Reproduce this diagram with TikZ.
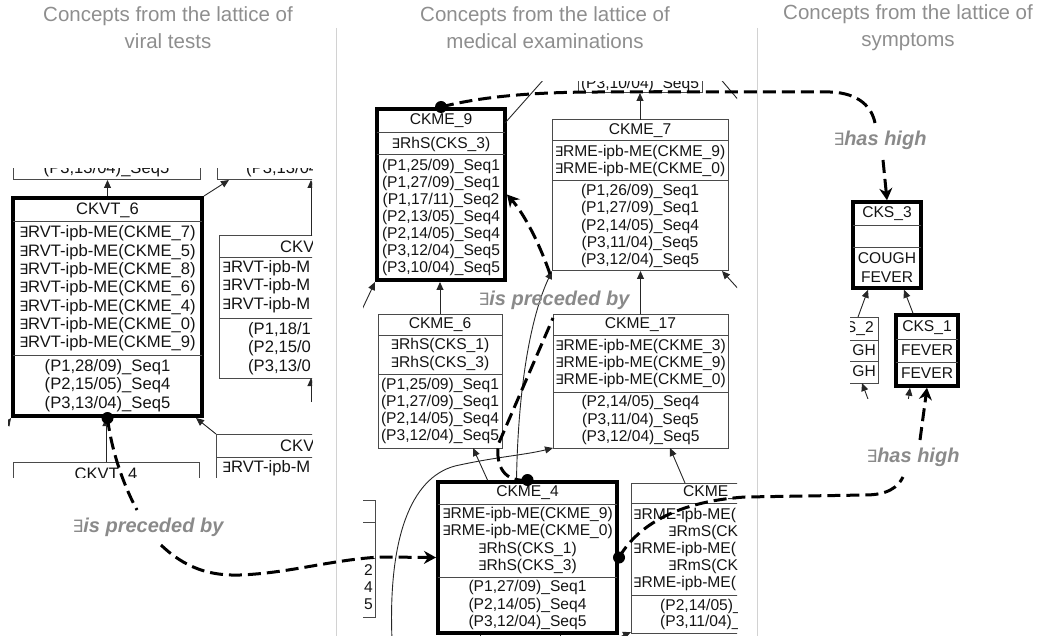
\documentclass[tikz,border=0pt]{standalone}
\usepackage{fontspec}
\setmainfont{Liberation Sans}
\newfontfamily\dvfont[Scale=0.85]{DejaVu Sans}
\usetikzlibrary{arrows.meta,calc}
\definecolor{hgray}{HTML}{8E8E8E}
\definecolor{lgray}{HTML}{8A8A8A}
\definecolor{vgray}{HTML}{D2D2D2}
\definecolor{bline}{HTML}{4A4A4A}
\newcommand\exsym{{\dvfont\mdseries\upshape ∃}}
\newcommand\fL{\fontsize{16.6}{18.3}\selectfont}
\newcommand\fM{\fontsize{15.6}{17.1}\selectfont}
\newcommand\fR{\fontsize{15.6}{18.3}\selectfont}
\newcommand\fH{\fontsize{20.5}{27}\selectfont}
\newcommand\fB{\fontsize{20}{24}\selectfont\bfseries\itshape}
\newcommand\cb[6]{\node[#2,minimum width={#5-#3},minimum height={#6-#4}] (#1) at ({(#3+#5)/2},{(#4+#6)/2}) {};}
\newcommand\hs[3]{\draw[sl] (#1,#3) -- (#2,#3);}
\tikzset{
  tb/.style={draw=bline,line width=1pt,inner sep=0pt,outer sep=0pt},
  tk/.style={draw=black,line width=4pt,inner sep=0pt,outer sep=2pt},
  tk3/.style={draw=black,line width=3.5pt,inner sep=0pt,outer sep=1.75pt},
  sl/.style={draw=bline,line width=1pt},
  thinl/.style={draw=black!85,line width=0.9pt},
  arr/.style={thinl,-{Triangle[length=8pt,width=7pt]}},
  dsh/.style={draw=black,line width=3pt,dash pattern=on 13pt off 6pt},
  dsha/.style={dsh,-{Stealth[length=12pt,width=13pt]}},
  lt/.style={font=\fL,align=center,inner sep=0pt,text=black!92},
  mt/.style={font=\fM,align=center,inner sep=0pt,text=black!92},
  rt/.style={font=\fR,align=center,inner sep=0pt,text=black!92},
  hdr/.style={font=\fH,align=center,text=hgray,inner sep=0pt},
  lbl/.style={font=\fB,text=lgray,inner sep=0pt},
  vsep/.style={draw=vgray,line width=1pt},
  blob/.style={circle,fill=black,inner sep=0pt,minimum size=12pt},
}
\begin{document}
\begin{tikzpicture}[x=1pt,y=-1pt]
\useasboundingbox (0,0) rectangle (1041,636);
% headers and separators
\node[hdr] (h1) at (168,28) {Concepts from the lattice of\\viral tests};
\node[hdr] (h2) at (545,28) {Concepts from the lattice of\\medical examinations};
\node[hdr] (h3) at (908,28) {Concepts from the lattice of\\symptoms};
\draw[vsep] (336,28) -- (336,636);
\draw[vsep] (757,28) -- (757,636);

% ---------------- left panel ----------------
\begin{scope}
\clip (8,169) rectangle (312,477);
\cb{va}{tb}{13}{120}{200}{180}
\node[lt] at (106.5,169) {(P3,13/04)\_Seq5};
\cb{vb}{tb}{217}{120}{401}{180}
\node[lt] at (309,169) {(P3,13/04)\_Seq5};
\cb{ckvt6}{tk}{13}{198}{202}{416}
\hs{13}{202}{222} \hs{13}{202}{355}
\node[lt] at (107.5,210) {CKVT\_6};
\node[lt] at (107.5,288.5) {\exsym RVT-ipb-ME(CKME\_7)\\\exsym RVT-ipb-ME(CKME\_5)\\\exsym RVT-ipb-ME(CKME\_8)\\\exsym RVT-ipb-ME(CKME\_6)\\\exsym RVT-ipb-ME(CKME\_4)\\\exsym RVT-ipb-ME(CKME\_0)\\\exsym RVT-ipb-ME(CKME\_9)};
\node[lt] at (107.5,385.5) {(P1,28/09)\_Seq1\\(P2,15/05)\_Seq4\\(P3,13/04)\_Seq5};
\cb{vc}{tb}{219}{236}{395}{378}
\hs{219}{395}{258} \hs{219}{395}{318}
\node[lt,anchor=west] at (280,247) {CKV};
\node[lt,anchor=west,align=left] at (222,286.5) {\exsym RVT-ipb-M\\\exsym RVT-ipb-M\\\exsym RVT-ipb-M};
\node[lt,anchor=west,align=left] at (248,348.5) {(P1,18/1\\(P2,15/0\\(P3,13/0};
\cb{vd}{tb}{216}{434}{395}{520}
\hs{216}{395}{457}
\node[lt,anchor=west] at (280,445.5) {CKV};
\node[lt,anchor=west] at (222,468) {\exsym RVT-ipb-M};
\cb{ckvt4}{tb}{13}{462}{199}{560}
\node[lt] at (106,475) {CKVT\_4};
\draw[arr] (ckvt6.north) -- (ckvt6.north |- va.south);
\draw[arr] (ckvt6.north east) -- ($(vb.south west)+(12,0)$);
\draw[arr] ($(vc.north west)+(92,0)$) -- ($(vb.south west)+(94,0)$);
\draw[arr] ($(vc.south west)+(92,24)$) -- ($(vc.south west)+(92,0)$);
\draw[arr] (vd.north west) -- ($(ckvt6.south east)+(-8,0)$);
\draw[arr] (ckvt4.north) -- (ckvt4.north |- ckvt6.south);
\draw[arr] ($(ckvt6.south west)+(-7,10)$) -- (ckvt6.south west);
\end{scope}

% ---------------- middle panel ----------------
\begin{scope}
\clip (363,82) rectangle (737,636);
\cb{metop}{tb}{578}{40}{702}{93}
\node[mt] at (640,84) {(P3,10/04)\_Seq5};
\cb{ckme9}{tk}{377}{109}{505}{280}
\hs{377}{505}{133} \hs{377}{505}{155}
\node[mt] at (441,121) {CKME\_9};
\node[mt] at (441,144) {\exsym RhS(CKS\_3)};
\node[mt] at (441,217.5) {(P1,25/09)\_Seq1\\(P1,27/09)\_Seq1\\(P1,17/11)\_Seq2\\(P2,13/05)\_Seq4\\(P2,14/05)\_Seq4\\(P3,12/04)\_Seq5\\(P3,10/04)\_Seq5};
\cb{ckme7}{tb}{552}{120}{728}{271}
\hs{552}{728}{141} \hs{552}{728}{181}
\node[mt] at (640,130.5) {CKME\_7};
\node[mt] at (640,161) {\exsym RME-ipb-ME(CKME\_9)\\\exsym RME-ipb-ME(CKME\_0)};
\node[mt] at (640,226) {(P1,26/09)\_Seq1\\(P1,27/09)\_Seq1\\(P2,14/05)\_Seq4\\(P3,11/04)\_Seq5\\(P3,12/04)\_Seq5};
\cb{ckme6}{tb}{378}{314}{502}{448}
\hs{378}{502}{335} \hs{378}{502}{374}
\node[mt] at (440,324.5) {CKME\_6};
\node[mt] at (440,354.5) {\exsym RhS(CKS\_1)\\\exsym RhS(CKS\_3)};
\node[mt] at (440,411) {(P1,25/09)\_Seq1\\(P1,27/09)\_Seq1\\(P2,14/05)\_Seq4\\(P3,12/04)\_Seq5};
\cb{ckme17}{tb}{553}{314}{728}{448}
\hs{553}{728}{335} \hs{553}{728}{392}
\node[mt] at (640.5,324.5) {CKME\_17};
\node[mt] at (640.5,363.5) {\exsym RME-ipb-ME(CKME\_3)\\\exsym RME-ipb-ME(CKME\_9)\\\exsym RME-ipb-ME(CKME\_0)};
\node[mt] at (640.5,420) {(P2,14/05)\_Seq4\\(P3,11/04)\_Seq5\\(P3,12/04)\_Seq5};
\cb{ckme4}{tk}{438}{482}{617}{633}
\hs{438}{617}{504} \hs{438}{617}{577}
\node[mt] at (527.5,493) {CKME\_4};
\node[mt] at (527.5,540.5) {\exsym RME-ipb-ME(CKME\_9)\\\exsym RME-ipb-ME(CKME\_0)\\\exsym RhS(CKS\_1)\\\exsym RhS(CKS\_3)};
\node[mt] at (527.5,605) {(P1,27/09)\_Seq1\\(P2,14/05)\_Seq4\\(P3,12/04)\_Seq5};
\cb{mr}{tb}{631}{483}{806}{633}
\hs{631}{806}{503} \hs{631}{806}{595}
\node[mt,anchor=west] at (683,493) {CKME\_};
\node[mt,anchor=west] at (633,515) {\exsym RME-ipb-ME(};
\node[mt,anchor=west] at (668,532) {\exsym RmS(CK};
\node[mt,anchor=west] at (633,549) {\exsym RME-ipb-ME(};
\node[mt,anchor=west] at (668,566) {\exsym RmS(CK};
\node[mt,anchor=west] at (633,583) {\exsym RME-ipb-ME(};
\node[mt,anchor=west] at (660,606) {(P2,14/05)\_};
\node[mt,anchor=west] at (660,622) {(P3,11/04)\_};
\cb{ml}{tb}{250}{500}{375}{617}
\hs{250}{375}{522} \hs{250}{375}{558}
\node[mt,anchor=east,align=right] at (373,587) {2\\4\\5};
% thin connectors
\coordinate (mb) at (392,640);
\draw[arr] (ckme6.north) -- (ckme6.north |- ckme9.south);
\draw[arr] (ckme17.north) -- (ckme17.north |- ckme7.south);
\draw[arr] (ckme7.north) -- (ckme7.north |- metop.south);
\draw[arr] ($(ckme9.south west)+(-16,34)$) -- (ckme9.south west);
\draw[thinl] ($(ckme9.north east)+(-2,16)$) -- +(48,-54);
\draw[thinl] ($(ckme7.north east)+(-10,-44)$) -- +(28,33);
\draw[arr] ($(ckme7.south east)+(14,22)$) -- ($(ckme7.south east)+(-6,0)$);
\draw[arr] ($(ckme4.north)+(-11,0)$) .. controls (518,390) and (530,318) .. (ckme7.south west);
\draw[arr] ($(ckme4.north)+(-40,0)$) -- ($(ckme6.south east)+(-29,0)$);
\draw[arr] (mb) .. controls (388,540) and (410,478) .. (455,466) .. controls (495,457) and (525,455) .. (ckme17.south west);
\draw[arr] ($(mr.north west)+(54,0)$) -- ($(ckme17.south west)+(117,0)$);
\draw[arr] ($(ckme4.south east)+(-8,6)$) -- ($(mr.south west)+(0,-1)$);
\draw[thinl] ($(ckme4.south)+(-47,0)$) -- +(0,10);
\draw[thinl] ($(ckme4.south)+(33,0)$) -- +(0,10);
\end{scope}

% ---------------- right panel ----------------
\begin{scope}
\clip (850,190) rectangle (1000,398);
\cb{cks3}{tk3}{853}{202}{921}{288}
\hs{853}{921}{226} \hs{853}{921}{248}
\node[mt] at (887,214) {CKS\_3};
\node[rt] at (887,267.5) {COUGH\\FEVER};
\cb{cks2}{tb}{820}{317}{878}{383}
\hs{820}{878}{340} \hs{820}{878}{361}
\node[mt] at (849,328.5) {CKS\_2};
\node[mt,anchor=east] at (876,350.5) {GH};
\node[mt,anchor=east] at (876,371.5) {GH};
\cb{cks1}{tk3}{896}{315}{958}{386}
\hs{896}{958}{339} \hs{896}{958}{362}
\node[mt] at (927,328) {CKS\_1};
\node[mt] at (927,350.5) {FEVER};
\node[mt] at (927,373) {FEVER};
\draw[arr] ($(cks2.north)+(9,0)$) -- ($(cks3.south)+(-19,0)$);
\draw[arr] ($(cks1.north)+(-14,0)$) -- ($(cks3.south)+(17,0)$);
\draw[arr] ($(cks2.south)+(19,16)$) -- ($(cks2.south)+(13,0)$);
\draw[arr] ($(cks1.south)+(-19,14)$) -- ($(cks1.south)+(-17,0)$);
\end{scope}

% ---------------- relation labels and dashed connectors ----------------
\node[lbl] (l1) at (148,527) {\exsym is preceded by};
\node[lbl] (l2) at (554,300) {\exsym is preceded by};
\node[lbl] (l3) at (880,140) {\exsym has high};
\node[lbl] (l4) at (913,457) {\exsym has high};
\coordinate (d1a) at (137,510);
\coordinate (d1b) at (161,545);
\coordinate (d2a) at (553,318);
\coordinate (d2b) at (550,274);
\coordinate (d3a) at (875,123);
\coordinate (d3b) at (883,160);
\coordinate (d4a) at (903,477);
\coordinate (d4b) at (920,440);
\draw[dsh] (ckvt6.south) .. controls (112,455) and (126,490) .. (d1a);
\draw[dsha] (d1b) .. controls (185,568) and (210,576) .. (240,575) .. controls (290,573) and (330,560) .. (380,557) -- (ckme4.west);
\draw[dsh] (ckme4.north) .. controls (505,482) and (496,468) .. (498,445) -- (d2a);
\draw[dsha] (d2b) .. controls (540,245) and (525,215) .. (ckme9.east);
\draw[dsh] (ckme9.north) .. controls (480,97) and (530,92) .. (600,92) -- (830,92) .. controls (860,93) and (872,108) .. (d3a);
\draw[dsha] (d3b) -- (cks3.north);
\draw[dsh] (ckme4.east) .. controls (635,530) and (670,502) .. (745,497) -- (865,495) .. controls (888,495) and (898,487) .. (d4a);
\draw[dsha] (d4b) -- (cks1.south);
\node[blob] (b1) at (ckvt6.south) {};
\node[blob] (b2) at (ckme4.north) {};
\node[blob] (b3) at (ckme9.north) {};
\node[blob] (b4) at (ckme4.east) {};
\end{tikzpicture}
\end{document}
